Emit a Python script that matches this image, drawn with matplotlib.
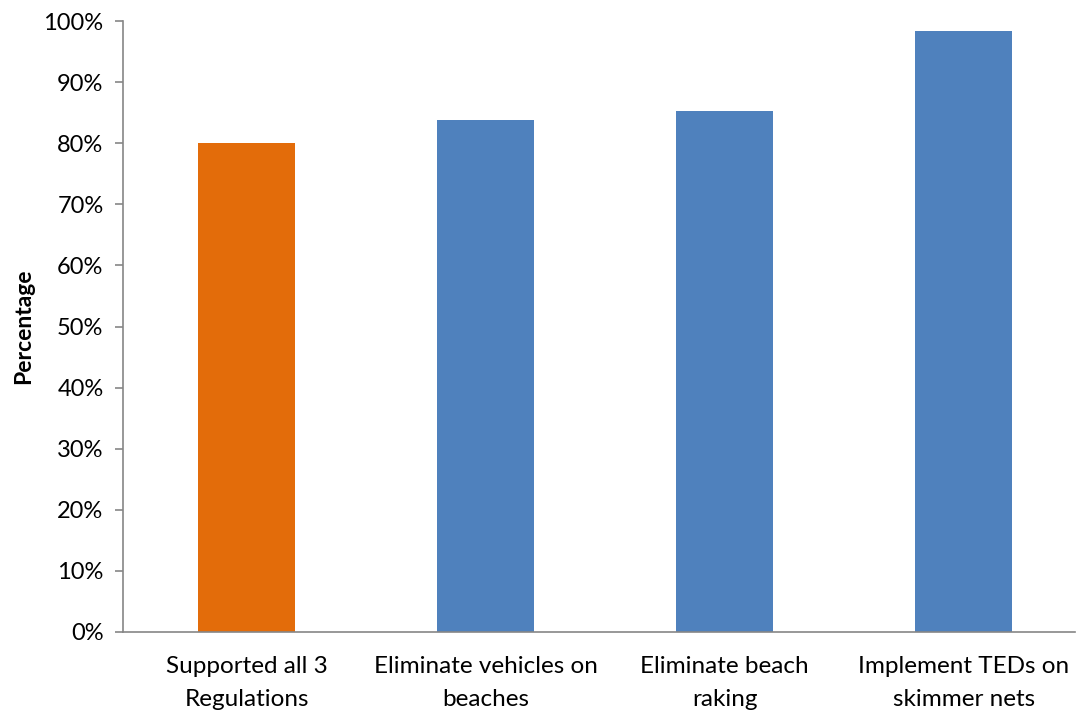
import matplotlib
matplotlib.use("Agg")
import matplotlib.pyplot as plt
from matplotlib.ticker import FuncFormatter

categories = ["Supported all 3\nRegulations", "Eliminate vehicles on\nbeaches",
              "Eliminate beach\nraking", "Implement TEDs on\nskimmer nets"]
values = [80.0, 83.8, 85.3, 98.4]
colors = ["#E36C0A", "#4F81BD", "#4F81BD", "#4F81BD"]
yticks = list(range(0, 101, 10))

plt.rcParams['font.family'] = ['Lato', 'DejaVu Sans']
fig = plt.figure(figsize=(10.76, 7.15), dpi=100)
ax = fig.add_axes([0.1143, 0.1161, 0.885, 0.8545])
x = list(range(len(categories)))
ax.bar(x, values, width=0.405, color=colors)
ax.set_xlim(-0.517, 3.467)
ax.set_ylim(0, 100)
ax.set_yticks(yticks)
ax.yaxis.set_major_formatter(FuncFormatter(lambda v, p: f"{int(v)}%"))
ax.set_xticks(x)
ax.set_xticklabels(categories, fontsize=17.5, linespacing=1.72)
ax.tick_params(axis='y', labelsize=17, length=6, width=1.2, color="#868686", pad=8)
ax.tick_params(axis='x', length=0, pad=17)
for s in ["top", "right"]:
    ax.spines[s].set_visible(False)
for s in ["left", "bottom"]:
    ax.spines[s].set_color("#868686")
    ax.spines[s].set_linewidth(1.2)
ax.set_ylabel("Percentage", fontsize=16.5, fontweight="bold", labelpad=7)
fig.savefig("out.png", dpi=100)
